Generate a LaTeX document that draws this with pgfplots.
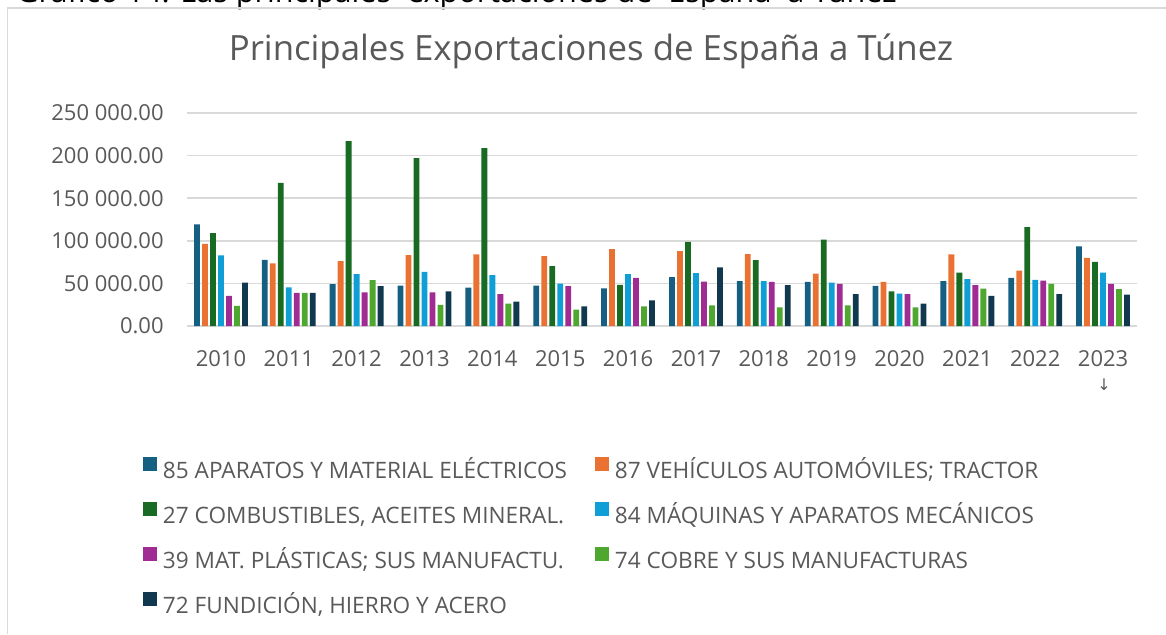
\documentclass[border=0pt]{standalone}
\usepackage{pgfplots}
\usepackage{pgfplotstable}
\pgfplotsset{compat=1.18}
\usepackage{fontspec}
\setmainfont{Open Sans}
\newfontfamily\arrowfont{DejaVu Sans}
\definecolor{c1}{HTML}{156082}
\definecolor{c2}{HTML}{E97132}
\definecolor{c3}{HTML}{196B24}
\definecolor{c4}{HTML}{0F9ED5}
\definecolor{c5}{HTML}{A02B93}
\definecolor{c6}{HTML}{4EA72E}
\definecolor{c7}{HTML}{10384F}
\definecolor{txt}{HTML}{595959}
\definecolor{gridc}{HTML}{D9D9D9}
\newcommand\sqimg[1]{\fill[#1] (0pt,0.25pt) rectangle (7pt,7.25pt);}
\newcommand\lgt[1]{\makebox[214pt][l]{#1}}

\pgfplotstableread{
x a b c d e f g
0 119300 96500 109100 82800 35300 23500 51000
1 77700 73400 168000 45500 38900 38900 38900
2 49100 76100 217000 60800 39600 53800 46700
3 47500 83200 197000 63600 39600 24700 40800
4 45100 84000 208800 59700 37300 26300 28700
5 47500 82000 70300 49800 46700 19200 23200
6 44300 90300 48300 60800 56500 23200 30200
7 57300 87900 98900 62000 52200 24300 68700
8 52600 84400 77300 52600 51800 22000 47900
9 51800 61600 101300 51000 49500 24300 37300
10 47100 51800 40800 38100 37300 22000 26300
11 52600 84000 62800 54900 47900 44000 35300
12 56500 65100 116200 54200 53400 49500 37300
13 93400 80100 75400 62800 49500 43200 36900
}\datatable

\begin{document}
\begin{tikzpicture}
\path[use as bounding box] (0,0) rectangle (583pt,-317pt);
\begin{scope}
\clip (0,0) rectangle (583pt,-317pt);
\node[anchor=base west, inner sep=0pt, font=\fontsize{15.3}{17}\selectfont, text=black] at (8pt,-1pt) {Gráfico 14: Las principales\ \ exportaciones de\ \ España\ \ a Túnez};
\end{scope}
\draw[gridc, line width=0.75pt] (3.75pt,-317pt) -- (3.75pt,-4pt) -- (583pt,-4pt);
\node[text=txt, font=\fontsize{17.4}{20}\selectfont, anchor=base, inner sep=0pt] at (295.5pt,-30.35pt) {Principales Exportaciones de España a Túnez};
\node[text=txt, font=\arrowfont\fontsize{8}{9}\selectfont, inner sep=0pt] at (552pt,-192.5pt) {↓};
\begin{axis}[
  at={(93.5pt,-163pt)}, anchor=south west,
  scale only axis, width=475pt, height=106.5pt,
  xmin=-0.5, xmax=13.5, ymin=0, ymax=250000,
  ybar=1.1pt, bar width=2.9pt,
  axis line style={draw=none},
  tick style={draw=none},
  ymajorgrids, major grid style={gridc, line width=0.75pt},
  xtick={0,...,13},
  xticklabels={2010,2011,2012,2013,2014,2015,2016,2017,2018,2019,2020,2021,2022,2023},
  ytick={0,50000,100000,150000,200000,250000},
  yticklabels={0.00,50 000.00,100 000.00,150 000.00,200 000.00,250 000.00},
  scaled y ticks=false,
  ticklabel style={font=\fontsize{11}{13}\selectfont, text=txt},
  xticklabel style={anchor=center, yshift=-12pt},
  yticklabel style={anchor=east, inner sep=0pt, xshift=-11.5pt},
  legend columns=2,
  legend style={at={(-0.04632,-0.617)}, anchor=north west, draw=none, fill=none,
    inner sep=0pt, outer sep=0pt, row sep=8.5pt,
    font=\fontsize{11.3}{13}\selectfont, text=txt,
    /tikz/every odd column/.append style={column sep=1pt},
    /tikz/every even column/.append style={column sep=0pt, text height=8pt, text depth=2pt, inner sep=0pt}},
]
\addplot[fill=c1, draw=none, legend image code/.code={\sqimg{c1}}] table[x=x,y=a]{\datatable};
\addplot[fill=c2, draw=none, legend image code/.code={\sqimg{c2}}] table[x=x,y=b]{\datatable};
\addplot[fill=c3, draw=none, legend image code/.code={\sqimg{c3}}] table[x=x,y=c]{\datatable};
\addplot[fill=c4, draw=none, legend image code/.code={\sqimg{c4}}] table[x=x,y=d]{\datatable};
\addplot[fill=c5, draw=none, legend image code/.code={\sqimg{c5}}] table[x=x,y=e]{\datatable};
\addplot[fill=c6, draw=none, legend image code/.code={\sqimg{c6}}] table[x=x,y=f]{\datatable};
\addplot[fill=c7, draw=none, legend image code/.code={\sqimg{c7}}] table[x=x,y=g]{\datatable};
\legend{\lgt{85 APARATOS Y MATERIAL ELÉCTRICOS}, \lgt{87 VEHÍCULOS AUTOMÓVILES; TRACTOR}, \lgt{27 COMBUSTIBLES{,} ACEITES MINERAL.}, \lgt{84 MÁQUINAS Y APARATOS MECÁNICOS}, \lgt{39 MAT. PLÁSTICAS; SUS MANUFACTU.}, \lgt{74 COBRE Y SUS MANUFACTURAS}, \lgt{72 FUNDICIÓN{,} HIERRO Y ACERO}}
\end{axis}
\end{tikzpicture}
\end{document}
